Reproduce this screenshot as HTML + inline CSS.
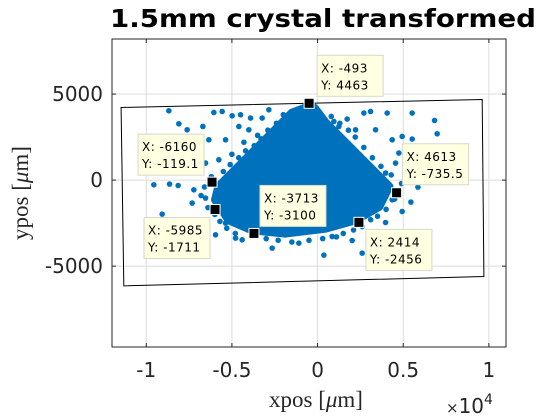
<!DOCTYPE html>
<html><head><meta charset="utf-8"><style>
html,body{margin:0;padding:0;background:#fff;}
svg{display:block;}
.tk{font-family:"DejaVu Sans","Liberation Sans",sans-serif;font-size:20px;fill:#262626;}
.tip{font-family:"DejaVu Sans","Liberation Sans",sans-serif;font-size:12px;letter-spacing:0.5px;fill:#000;}
</style></head><body>
<svg id="chart" width="560" height="420" viewBox="0 0 560 420" xmlns="http://www.w3.org/2000/svg">
<rect width="560" height="420" fill="#fff"/>
<g id="grid"></g>
<g id="quad"></g>
<g id="pts"></g>
<g id="marks"></g>
<rect x="112" y="39" width="394" height="308" fill="none" stroke="#262626" stroke-width="1"/>
<g id="ticks"></g>
<text x="323" y="27" text-anchor="middle" font-family="DejaVu Sans, Liberation Sans, sans-serif" font-weight="bold" font-size="25" textLength="426" lengthAdjust="spacingAndGlyphs" fill="#000">1.5mm crystal transformed</text>
<text x="316" y="407" text-anchor="middle" font-family="Liberation Serif, serif" font-size="23" fill="#262626">xpos [<tspan font-style="italic">μ</tspan>m]</text>
<text transform="translate(28,193) rotate(-90)" text-anchor="middle" font-family="Liberation Serif, serif" font-size="23" fill="#262626">ypos [<tspan font-style="italic">μ</tspan>m]</text>
<text x="446" y="413" class="tk"><tspan font-size="15">×</tspan>10<tspan dy="-9" font-size="14">4</tspan></text>
<g id="tips"></g>
</svg>
<script>
const xTicks=[-10000,-5000,0,5000,10000];
const xTickLabels=["-1","-0.5","0","0.5","1"];
const yTicks=[-5000,0,5000];
const yTickLabels=["-5000","0","5000"];
const quadX=[-11470,9610,9710,-11310];
const quadY=[4221,4686,-5605,-6145];
const blobX=[-500,-700,-1483,-2452,-3620,-4787,-5762,-5955,-5178,-3818,-1868,467,2218,3579,4162,3188,1635,467,-117];
const blobY=[4460,4186,3895,2925,1762,599,-372,-1145,-2308,-2890,-3080,-2790,-2308,-1535,-372,599,2151,3314,4087];
const ptX=[-8681,-8097,-7613,-9557,-8640,-8138,-9072,-5955,-4787,-2650,368,2604,2020,3970,4939,5447,5860,5523,6830,6982,5523,4063,3094,2703,1728,952,-2843,-3234,-3911,-4495,-4986,-5569,-6054,-6696,-6346,-5371,-6931,-7222,-7321,-6539,-5371,-4402,-1092,852,2802,4355,3970,4554,4355,3386,-4011,-4595,1243,2218,-6539,-5762,4746,4939,
 -2000,-2400,-2900,-3300,-3700,-4200,-4600,-5100,-5500,-6200,-6600,-6800,-6400,-6000,-5700,-5300,-4800,-3000,-2300,-1500,-500,300,1100,1500,2100,2600,3100,3500,4000,4500,4900,4300,3700,3200,2700,2200,1800,1300,800,-3500,-4300,-5000];
const ptY=[4029,3273,2924,-273,-233,-314,-1977,-3180,-3372,-3953,-4361,-4244,-3512,-2465,-1826,-1279,-407,2384,3465,2692,3895,3895,3988,3895,3547,3407,4087,3605,3605,3796,3738,3988,3930,3116,2343,2343,599,-564,-1337,-1047,-2500,-3471,-3663,-3279,-1826,-1145,407,988,2343,2924,2924,3116,3116,2924,988,1180,1570,2535,
 3800,3300,2900,2400,2000,1700,1300,900,500,200,-400,-900,-1600,-2000,-2400,-2800,-3100,-3400,-3500,-3600,-3500,-3400,-3300,-3100,-2900,-2700,-2300,-2100,-1700,-1100,-200,300,800,1300,1900,2500,2900,3300,3700,2600,2200,1500];
const tipX=[-493,-6160,4613,-3713,-5985,2414];
const tipY=[4463,-119.1,-735.5,-3100,-1711,-2456];
const tipXLabel=["-493","-6160","4613","-3713","-5985","2414"];
const tipYLabel=["4463","-119.1","-735.5","-3100","-1711","-2456"];
const tipBoxDX=[8,-74,6,6,-71,7];
const tipBoxDY=[-48,-48,-49,-48,8,7];
const NS="http://www.w3.org/2000/svg";
const X0=-12000,X1=11000,Y0=-9700,Y1=8200,L=112,R=506,T=39,B=347;
const sx=v=>L+(v-X0)/(X1-X0)*(R-L);
const sy=v=>B-(v-Y0)/(Y1-Y0)*(B-T);
function mk(tag,attrs,parent){const e=document.createElementNS(NS,tag);for(const k in attrs)e.setAttribute(k,attrs[k]);document.getElementById(parent).appendChild(e);return e;}
xTicks.forEach((t,i)=>{
 const g=mk('line',{x1:sx(t),x2:sx(t),y1:T,y2:B,stroke:'#dcdcdc','stroke-width':1},'grid');
 
 
 const a=mk('line',{x1:sx(t),x2:sx(t),y1:B,y2:B-4,stroke:'#262626'},'ticks');
 
 
 const b=mk('line',{x1:sx(t),x2:sx(t),y1:T,y2:T+4,stroke:'#262626'},'ticks');
 
 
 const l=mk('text',{x:sx(t),y:377,'text-anchor':'middle',class:'tk'},'ticks');l.textContent=xTickLabels[i];
 
 
});
yTicks.forEach((t,i)=>{
 const g=mk('line',{x1:L,x2:R,y1:sy(t),y2:sy(t),stroke:'#dcdcdc','stroke-width':1},'grid');
 
 
 const a=mk('line',{x1:L,x2:L+4,y1:sy(t),y2:sy(t),stroke:'#262626'},'ticks');
 
 
 const b=mk('line',{x1:R,x2:R-4,y1:sy(t),y2:sy(t),stroke:'#262626'},'ticks');
 
 
 const l=mk('text',{x:103,y:sy(t)+7,'text-anchor':'end',class:'tk'},'ticks');l.textContent=yTickLabels[i];
 
 
});
const q=mk('polygon',{points:quadX.map((x,i)=>sx(x)+','+sy(quadY[i])).join(' '),fill:'none',stroke:'#000','stroke-width':1},'quad');


const bl=mk('polygon',{points:blobX.map((x,i)=>sx(x)+','+sy(blobY[i])).join(' '),fill:'#0072bd',stroke:'#0072bd','stroke-width':9,'stroke-linejoin':'round'},'pts');


ptX.forEach((x,i)=>{
 const c=mk('circle',{cx:sx(x),cy:sy(ptY[i]),r:2.8,fill:'#0072bd'},'pts');
 
 
});
tipX.forEach((x,i)=>{
 const px=sx(x),py=sy(tipY[i]);
 const m=mk('rect',{x:px-5,y:py-5,width:10,height:10,fill:'#000',stroke:'#fff','stroke-width':1},'marks');
 
 
 const bx=px+tipBoxDX[i],by=py+tipBoxDY[i];
 const r=mk('rect',{x:bx,y:by,width:66,height:41,fill:'#ffffe1',stroke:'#d8d8c8','stroke-width':1},'tips');
 
 
 const t1=mk('text',{x:bx+4,y:by+17,class:'tip'},'tips');t1.textContent='X: '+tipXLabel[i];
 
 
 const t2=mk('text',{x:bx+4,y:by+34,class:'tip'},'tips');t2.textContent='Y: '+tipYLabel[i];
 
 
});
</script>
</body></html>
